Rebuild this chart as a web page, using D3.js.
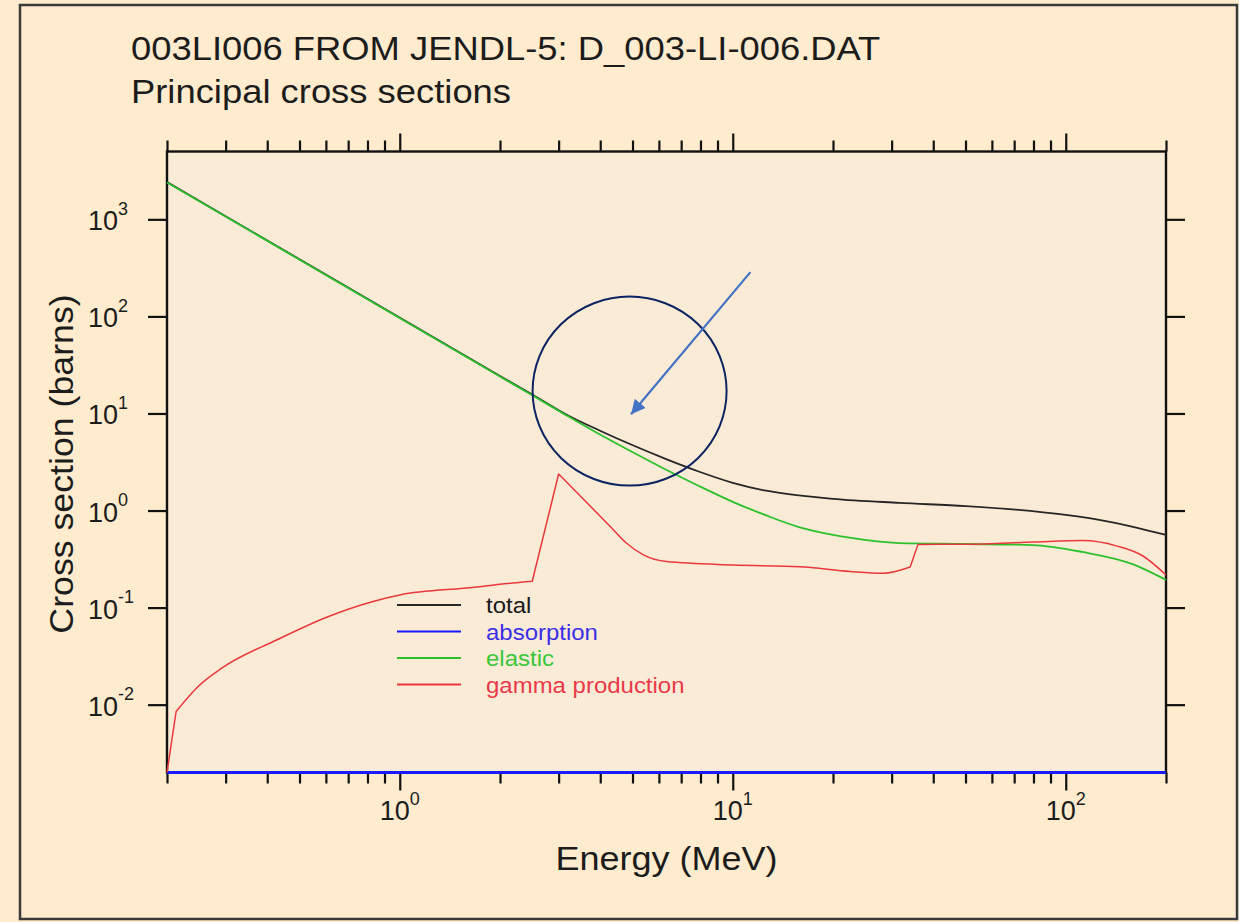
<!DOCTYPE html>
<html>
<head>
<meta charset="utf-8">
<script src="https://cdn.jsdelivr.net/npm/d3@7"></script>
<style>
  html, body { margin: 0; padding: 0; background: #ffebcd; }
  svg { display: block; }
  text { font-family: "Liberation Sans", Arial, Helvetica, sans-serif; }
</style>
</head>
<body>
<svg id="chart" width="1239" height="922"></svg>
<script>
// ---- Text ----
const titleLines = ["003LI006 FROM JENDL-5: D_003-LI-006.DAT", "Principal cross sections"];
const xAxisTitle = "Energy (MeV)";
const yAxisTitle = "Cross section (barns)";
const seriesNames = ["total", "absorption", "elastic", "gamma production"];

// ---- Axis ticks (powers of ten) ----
const xTickExponents = [0, 1, 2];
const yTickExponents = [-2, -1, 0, 1, 2, 3];
const xMinorMantissas = [2, 3, 4, 5, 6, 7, 8, 9];

// ---- Cross sections: energy in MeV, cross section in barns ----
const totalEnergy = [0.2, 2.0, 2.5, 3.16, 3.98, 5.01, 6.31, 7.94, 10, 12.6, 15.8, 20, 31.6, 50.1, 70.8, 100, 126, 158, 200];
const totalXs     = [2420, 24.3, 15.7, 9.77, 6.68, 4.70, 3.39, 2.51, 1.93, 1.60, 1.43, 1.32, 1.20, 1.11, 1.02, 0.90, 0.80, 0.684, 0.56];

const absorptionEnergy = [0.2, 1, 10, 100, 200];
const absorptionXs     = [0, 0, 0, 0, 0];

const elasticEnergy = [0.2, 2.0, 2.5, 3.16, 3.98, 5.01, 6.31, 7.94, 10, 12.6, 15.8, 20, 22.4, 31.6, 50.1, 79.4, 112, 158, 200];
const elasticXs     = [2400, 24.0, 15.4, 9.6, 6.1, 3.98, 2.63, 1.78, 1.23, 0.891, 0.676, 0.562, 0.525, 0.462, 0.452, 0.441, 0.374, 0.282, 0.193];

const gammaEnergy = [0.2, 0.213, 0.248, 0.292, 0.428, 0.611, 0.826, 1.0, 1.68, 2.0, 2.5, 3.0, 4.3, 4.8, 5.39, 6.33, 10, 15.9, 22.5, 28.3, 34.1, 36.0, 50.5, 79.8, 112.7, 142.6, 170.5, 200];
const gammaXs     = [0.002, 0.0085, 0.0154, 0.0238, 0.0466, 0.081, 0.115, 0.135, 0.162, 0.174, 0.187, 2.38, 0.678, 0.46, 0.349, 0.298, 0.275, 0.264, 0.236, 0.226, 0.262, 0.448, 0.45, 0.474, 0.49, 0.43, 0.34, 0.217];
// indices where the gamma curve turns sharply (threshold edges, peak)
const gammaCorners = [0, 1, 10, 11, 20, 21, 27];

// ---- Circled region and pointer (MeV, barns) ----
const ringCenter = [4.9, 17];
const pointerFrom = [11.3, 286];
const pointerTo = [4.95, 9.8];

// ---- Layout ----
const W = 1239, H = 922;
const plot = { left: 167, right: 1166, top: 151.5, bottom: 772.5 };
const seriesColors = ["#262626", "#1a1aff", "#2cc12c", "#e8383c"];
const legendTextColors = ["#1a1a1a", "#3a2fe6", "#38c738", "#e83a48"];

const svg = d3.select("#chart");

// page background and outer frame
svg.append("rect").attr("width", W).attr("height", H).attr("fill", "#ffebcd");
svg.append("rect").attr("x", 20).attr("y", 5).attr("width", 1217).attr("height", 914)
  .attr("fill", "none").attr("stroke", "#3a3a3a").attr("stroke-width", 2.5);

// scales
const x = d3.scaleLog().domain([0.2, 200]).range([plot.left, plot.right]);
const y = d3.scaleLog().domain([0.002, 5000]).range([plot.bottom, plot.top]).clamp(true);
const yv = v => y(Math.max(v, y.domain()[0]));

// plot area
svg.append("rect")
  .attr("x", plot.left).attr("y", plot.top)
  .attr("width", plot.right - plot.left).attr("height", plot.bottom - plot.top)
  .attr("fill", "#faebd7");

// titles
const titleG = svg.append("g").attr("fill", "#1c1c1c");
titleLines.forEach((t, i) => {
  titleG.append("text")
    .attr("transform", `translate(131,${60 + i * 43}) scale(1.07,1)`)
    .attr("font-size", 34)
    .text(t);
});

// axes: majors and minors drawn as separate tick sets
const xMajors = xTickExponents.map(e => Math.pow(10, e));
const xMinors = [];
for (let e = -1; e <= 2; e++) {
  xMinorMantissas.forEach(m => {
    const v = m * Math.pow(10, e);
    if (v >= 0.2 - 1e-9 && v <= 200 + 1e-9) xMinors.push(v);
  });
}
const yMajors = yTickExponents.map(e => Math.pow(10, e));

function styleAxis(g) {
  g.select(".domain").remove();
  g.selectAll(".tick line").attr("stroke", "#111").attr("stroke-width", 2.2);
  g.selectAll(".tick text").remove();
}

svg.append("g").attr("transform", `translate(0,${plot.bottom})`)
  .call(d3.axisBottom(x).tickValues(xMajors).tickSize(18).tickFormat("")).call(styleAxis);
svg.append("g").attr("transform", `translate(0,${plot.bottom})`)
  .call(d3.axisBottom(x).tickValues(xMinors).tickSize(11).tickFormat("")).call(styleAxis);
svg.append("g").attr("transform", `translate(0,${plot.top})`)
  .call(d3.axisTop(x).tickValues(xMajors).tickSize(18).tickFormat("")).call(styleAxis);
svg.append("g").attr("transform", `translate(0,${plot.top})`)
  .call(d3.axisTop(x).tickValues(xMinors).tickSize(11).tickFormat("")).call(styleAxis);
svg.append("g").attr("transform", `translate(${plot.left},0)`)
  .call(d3.axisLeft(y).tickValues(yMajors).tickSize(19).tickFormat("")).call(styleAxis);
svg.append("g").attr("transform", `translate(${plot.right},0)`)
  .call(d3.axisRight(y).tickValues(yMajors).tickSize(19).tickFormat("")).call(styleAxis);

// plot frame
svg.append("rect")
  .attr("x", plot.left).attr("y", plot.top)
  .attr("width", plot.right - plot.left).attr("height", plot.bottom - plot.top)
  .attr("fill", "none").attr("stroke", "#111").attr("stroke-width", 2.4);

// tick labels, written as 10 with a raised exponent
const labelG = svg.append("g").attr("fill", "#1c1c1c");
yTickExponents.forEach(e => {
  const t = labelG.append("text")
    .attr("x", 88).attr("y", y(Math.pow(10, e)) + 11)
    .attr("font-size", 27);
  t.append("tspan").text("10");
  t.append("tspan").attr("font-size", 18).attr("dy", -15.5).text(String(e));
});
xTickExponents.forEach(e => {
  const t = labelG.append("text")
    .attr("x", x(Math.pow(10, e)))
    .attr("y", plot.bottom + 47)
    .attr("text-anchor", "middle")
    .attr("font-size", 27);
  t.append("tspan").text("10");
  t.append("tspan").attr("font-size", 18).attr("dy", -15).text(String(e));
});

// axis titles
svg.append("text")
  .attr("transform", `translate(666.5,870) scale(1.06,1)`)
  .attr("text-anchor", "middle").attr("font-size", 34).attr("fill", "#1c1c1c")
  .text(xAxisTitle);
svg.append("text")
  .attr("transform", `translate(73,464) rotate(-90) scale(1.05,1)`)
  .attr("text-anchor", "middle").attr("font-size", 34).attr("fill", "#1c1c1c")
  .text(yAxisTitle);

// curves: smooth between corner points
const smooth = d3.line().x(d => x(d[0])).y(d => yv(d[1])).curve(d3.curveMonotoneX);
function pathWithCorners(points, corners) {
  let d = "";
  for (let k = 0; k < corners.length - 1; k++) {
    const seg = smooth(points.slice(corners[k], corners[k + 1] + 1));
    d += k === 0 ? seg : "L" + seg.slice(1);
  }
  return d;
}
const series = [
  { e: totalEnergy, s: totalXs, w: 1.8 },
  { e: absorptionEnergy, s: absorptionXs, w: 3 },
  { e: elasticEnergy, s: elasticXs, w: 1.8 },
  { e: gammaEnergy, s: gammaXs, w: 1.5, corners: gammaCorners }
];
const curveG = svg.append("g").attr("fill", "none");
series.forEach((sr, i) => {
  const pts = d3.zip(sr.e, sr.s);
  curveG.append("path")
    .attr("d", sr.corners ? pathWithCorners(pts, sr.corners) : smooth(pts))
    .attr("stroke", seriesColors[i])
    .attr("stroke-width", sr.w)
    .attr("stroke-linejoin", "round");
});

// legend
const legendG = svg.append("g");
seriesNames.forEach((name, i) => {
  const ly = 605 + i * 26.5;
  legendG.append("line")
    .attr("x1", 397).attr("x2", 461).attr("y1", ly).attr("y2", ly)
    .attr("stroke", seriesColors[i]).attr("stroke-width", 2);
  legendG.append("text")
    .attr("transform", `translate(486,${ly + 8}) scale(1.09,1)`)
    .attr("font-size", 22).attr("fill", legendTextColors[i])
    .text(name);
});

// ring around the region where total and elastic separate, with a pointer into it
svg.append("ellipse")
  .attr("cx", x(ringCenter[0])).attr("cy", y(ringCenter[1]))
  .attr("rx", 97).attr("ry", 94.5)
  .attr("fill", "none").attr("stroke", "#0c2461").attr("stroke-width", 2);

const defs = svg.append("defs");
defs.append("marker")
  .attr("id", "arrowhead").attr("viewBox", "0 0 10 10")
  .attr("refX", 10).attr("refY", 5)
  .attr("markerWidth", 6.5).attr("markerHeight", 6.5)
  .attr("markerUnits", "strokeWidth")
  .attr("orient", "auto")
  .append("path").attr("d", "M0,0 L10,5 L0,10 Z").attr("fill", "#4472c4");

svg.append("line")
  .attr("x1", x(pointerFrom[0])).attr("y1", y(pointerFrom[1]))
  .attr("x2", x(pointerTo[0])).attr("y2", y(pointerTo[1]))
  .attr("stroke", "#4472c4").attr("stroke-width", 2.2)
  .attr("marker-end", "url(#arrowhead)");
</script>
</body>
</html>
